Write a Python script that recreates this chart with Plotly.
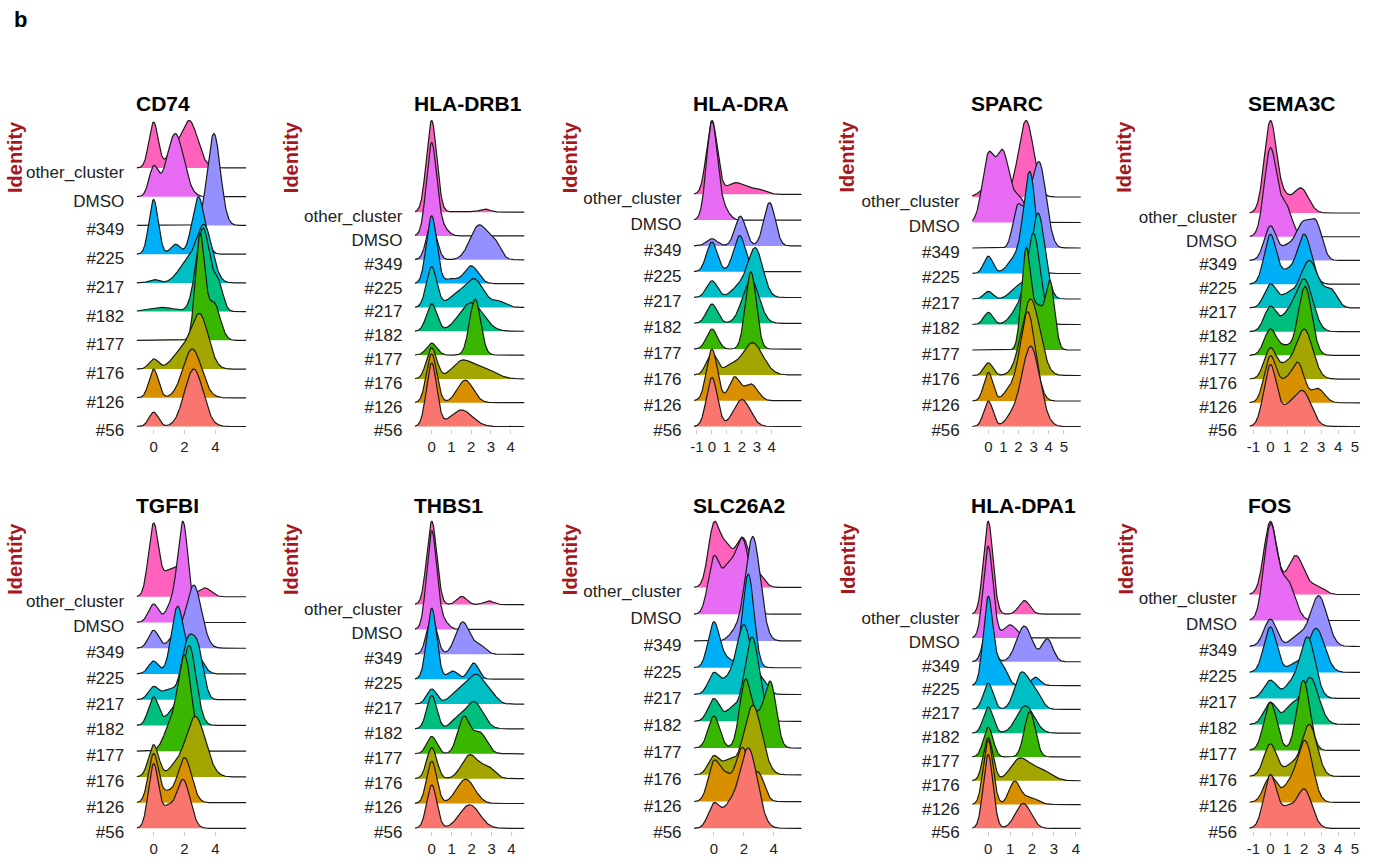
import numpy as np
import plotly.graph_objects as go

# ---------------- data ----------------
GROUPS = ["#56", "#126", "#176", "#177", "#182", "#217", "#225", "#349", "DMSO", "other_cluster"]
GROUP_COLORS = ["#F8766D", "#D89000", "#A3A500", "#39B600", "#00BF7D",
                "#00BFC4", "#00B0F6", "#9590FF", "#E76BF3", "#FF62BC"]

GENES = ["CD74", "HLA-DRB1", "HLA-DRA", "SPARC", "SEMA3C",
         "TGFBI", "THBS1", "SLC26A2", "HLA-DPA1", "FOS"]

# expression range covered by the density curves of each gene
X_EXTENT = [(-1.1, 6.0), (-0.85, 4.7), (-1.2, 6.0), (-1.07, 6.13), (-1.24, 5.3),
            (-1.1, 6.0), (-0.85, 4.65), (-1.33, 5.87), (-0.73, 4.23), (-1.24, 5.3)]

# narrowest peak width seen in each gene panel (density smoothing)
KDE_BW = [0.3, 0.26, 0.36, 0.3, 0.36, 0.33, 0.25, 0.38, 0.22, 0.38]

X_TICKS = [[0, 2, 4], [0, 1, 2, 3, 4], [-1, 0, 1, 2, 3, 4], [0, 1, 2, 3, 4, 5],
           [-1, 0, 1, 2, 3, 4, 5], [0, 2, 4], [0, 1, 2, 3, 4], [0, 2, 4],
           [0, 1, 2, 3, 4], [-1, 0, 1, 2, 3, 4, 5]]

# density peaks per group (order of GROUPS): (position, width, height in ridge-rows)
CD74 = [
    [(0, 0.25, 0.5), (2.6, 0.6, 2.0)],
    [(0, 0.25, 1.0), (2.5, 0.6, 1.7)],
    [(0, 0.25, 0.35), (1.8, 0.6, 0.6), (3.0, 0.55, 1.85)],
    [(3.0, 0.28, 3.6), (3.9, 0.4, 1.3)],
    [(0.5, 0.8, 0.15), (3.2, 0.45, 2.9), (4.2, 0.3, 0.9)],
    [(0, 0.3, 0.12), (2.2, 0.6, 0.7), (3.3, 0.5, 1.9)],
    [(0, 0.22, 1.9), (1.4, 0.3, 0.35), (2.9, 0.4, 2.0)],
    [(3.9, 0.42, 3.2)],
    [(0, 0.3, 1.0), (1.4, 0.55, 2.2)],
    [(0, 0.3, 1.6), (1.2, 0.35, 0.5), (2.3, 0.55, 1.65)],
]
HLA_DRB1 = [
    [(0, 0.2, 2.65), (1.5, 0.55, 0.7)],
    [(0, 0.2, 2.05), (1.7, 0.4, 0.95)],
    [(0, 0.2, 1.3), (1.5, 0.5, 0.7), (2.6, 0.6, 0.45)],
    [(0, 0.2, 0.5), (2.2, 0.28, 2.35)],
    [(0, 0.2, 1.15), (2.0, 0.6, 1.2)],
    [(0, 0.2, 1.7), (1.3, 0.5, 0.5), (2.2, 0.45, 1.1), (3.4, 0.35, 0.25)],
    [(0, 0.2, 2.85), (1.0, 0.3, 0.2), (2.0, 0.35, 0.75)],
    [(0, 0.2, 1.5), (2.4, 0.45, 1.45), (3.2, 0.3, 0.6)],
    [(0, 0.2, 3.9), (0.6, 0.25, 0.3)],
    [(0, 0.18, 3.85), (1.5, 0.5, 0.03), (2.7, 0.2, 0.13)],
]
HLA_DRA = [
    [(0, 0.22, 1.9), (2.0, 0.55, 1.05)],
    [(0, 0.22, 2.0), (1.5, 0.35, 0.9), (2.6, 0.45, 0.65)],
    [(0, 0.25, 0.85), (1.2, 0.4, 0.3), (2.7, 0.7, 1.25)],
    [(0, 0.25, 0.78), (2.6, 0.3, 3.0)],
    [(0, 0.25, 0.75), (2.6, 0.55, 1.7)],
    [(0, 0.25, 0.65), (1.8, 0.5, 0.4), (2.9, 0.5, 1.9)],
    [(0, 0.25, 1.15), (1.85, 0.4, 1.4)],
    [(0, 0.25, 0.28), (1.9, 0.35, 1.15), (3.85, 0.38, 1.68)],
    [(0, 0.22, 3.8), (0.8, 0.3, 0.4)],
    [(0, 0.2, 2.85), (1.6, 0.6, 0.45), (3.0, 0.5, 0.2)],
]
SPARC = [
    [(0, 0.25, 1.0), (1.5, 0.4, 0.3), (2.8, 0.6, 3.15)],
    [(0, 0.25, 1.12), (1.4, 0.4, 0.4), (2.6, 0.5, 3.5)],
    [(0, 0.25, 0.5), (2.8, 0.6, 3.0)],
    [(2.5, 0.3, 3.9), (3.3, 0.35, 1.6), (4.1, 0.25, 2.6)],
    [(0, 0.25, 0.48), (2.0, 0.5, 0.6), (3.0, 0.45, 3.5)],
    [(0, 0.25, 0.3), (2.0, 0.5, 0.5), (3.3, 0.45, 3.35)],
    [(0, 0.25, 0.68), (1.8, 0.5, 0.6), (2.75, 0.4, 3.9)],
    [(1.9, 0.3, 1.4), (2.6, 0.4, 1.2), (3.4, 0.45, 3.2)],
    [(0, 0.4, 2.6), (0.95, 0.4, 2.6), (2.0, 0.5, 1.0)],
    [(0.3, 0.6, 0.6), (2.5, 0.5, 3.0)],
]
SEMA3C = [
    [(0, 0.38, 2.6), (1.0, 0.35, 0.6), (1.9, 0.5, 1.5)],
    [(0, 0.33, 1.95), (0.9, 0.3, 0.8), (1.65, 0.35, 1.6), (2.8, 0.4, 0.6)],
    [(0, 0.3, 1.3), (0.9, 0.35, 0.5), (2.0, 0.5, 2.1)],
    [(0, 0.3, 1.1), (0.9, 0.3, 0.35), (2.05, 0.4, 2.9)],
    [(0, 0.3, 1.05), (1.0, 0.4, 0.6), (2.0, 0.5, 2.2)],
    [(0, 0.3, 1.0), (1.0, 0.4, 0.5), (2.3, 0.55, 2.0), (3.6, 0.35, 0.7)],
    [(0, 0.3, 2.1), (1.0, 0.35, 0.5), (2.0, 0.42, 2.1)],
    [(0, 0.3, 1.45), (1.0, 0.35, 0.55), (1.9, 0.4, 1.5), (2.7, 0.35, 1.5)],
    [(0, 0.27, 3.7), (0.9, 0.35, 1.3)],
    [(0, 0.25, 3.85), (0.8, 0.3, 0.6), (1.8, 0.45, 1.05)],
]
TGFBI = [
    [(0, 0.28, 2.5), (0.9, 0.3, 0.7), (1.9, 0.45, 1.9)],
    [(0, 0.25, 1.9), (0.9, 0.3, 0.35), (2.0, 0.45, 1.75)],
    [(0, 0.22, 1.25), (1.3, 0.4, 0.3), (2.7, 0.65, 2.35)],
    [(1.0, 0.4, 0.8), (2.0, 0.45, 3.7)],
    [(0, 0.25, 1.1), (1.2, 0.4, 0.5), (2.3, 0.45, 3.1)],
    [(0, 0.25, 0.5), (1.0, 0.4, 0.4), (2.2, 0.4, 2.2), (2.9, 0.35, 1.7)],
    [(0, 0.25, 0.5), (1.55, 0.4, 2.6), (2.7, 0.45, 0.8)],
    [(0, 0.25, 0.7), (1.4, 0.4, 0.5), (2.6, 0.5, 2.45)],
    [(0, 0.25, 0.72), (1.1, 0.3, 0.6), (1.9, 0.35, 3.9)],
    [(0, 0.3, 2.85), (0.9, 0.3, 0.8), (1.7, 0.4, 1.2), (3.3, 0.4, 0.35)],
]
THBS1 = [
    [(0, 0.2, 1.75), (1.9, 0.5, 0.95)],
    [(0, 0.2, 1.7), (1.7, 0.45, 0.98)],
    [(0, 0.2, 1.25), (1.9, 0.4, 0.95), (2.8, 0.35, 0.45)],
    [(0, 0.2, 0.7), (1.6, 0.3, 1.45), (2.4, 0.35, 0.85)],
    [(0, 0.2, 1.35), (1.2, 0.3, 0.3), (2.1, 0.45, 1.1)],
    [(0, 0.2, 0.6), (1.5, 0.5, 0.6), (2.3, 0.4, 1.0), (3.0, 0.3, 0.3)],
    [(0, 0.18, 2.85), (1.05, 0.2, 0.33), (2.1, 0.25, 0.65)],
    [(0, 0.2, 1.5), (1.55, 0.35, 1.3), (2.4, 0.3, 0.35)],
    [(0, 0.2, 3.95), (0.6, 0.25, 0.3)],
    [(0, 0.18, 3.35), (1.5, 0.25, 0.33), (2.85, 0.22, 0.15)],
]
SLC26A2 = [
    [(0, 0.3, 0.9), (1.0, 0.45, 0.7), (2.3, 0.6, 3.0)],
    [(0, 0.28, 1.45), (0.8, 0.35, 0.85), (1.9, 0.45, 2.0), (3.0, 0.35, 1.0)],
    [(0, 0.25, 0.7), (1.0, 0.4, 0.5), (2.6, 0.6, 2.6)],
    [(0, 0.25, 1.2), (2.1, 0.3, 2.5), (3.0, 0.4, 1.0), (3.8, 0.3, 2.35)],
    [(0, 0.25, 0.85), (1.2, 0.4, 0.45), (2.55, 0.5, 3.15)],
    [(0, 0.25, 0.8), (0.9, 0.35, 0.45), (2.0, 0.5, 2.6), (3.2, 0.4, 0.5)],
    [(0, 0.25, 1.7), (0.9, 0.3, 0.3), (2.3, 0.35, 3.5)],
    [(1.4, 0.4, 0.3), (2.6, 0.5, 3.9)],
    [(0, 0.3, 2.1), (0.9, 0.35, 1.4), (1.9, 0.5, 2.8)],
    [(0, 0.3, 2.3), (0.8, 0.35, 1.3), (1.9, 0.5, 1.85), (3.0, 0.4, 0.4)],
]
HLA_DPA1 = [
    [(0, 0.2, 3.1), (1.6, 0.35, 1.05)],
    [(0, 0.2, 2.7), (1.2, 0.25, 0.95), (1.9, 0.35, 0.3)],
    [(0, 0.2, 1.8), (1.4, 0.4, 0.85), (2.3, 0.5, 0.5)],
    [(0, 0.2, 1.25), (1.9, 0.25, 1.9)],
    [(0, 0.2, 1.1), (1.7, 0.4, 1.15)],
    [(0, 0.2, 1.1), (1.5, 0.3, 1.45), (2.1, 0.3, 0.8)],
    [(0, 0.2, 3.7), (0.6, 0.25, 0.9), (2.15, 0.2, 0.35)],
    [(0, 0.2, 1.5), (1.65, 0.35, 1.5), (2.7, 0.25, 0.95)],
    [(0, 0.2, 3.85), (1.0, 0.3, 0.55)],
    [(0, 0.18, 3.9), (1.65, 0.25, 0.57)],
]
FOS = [
    [(0, 0.33, 2.05), (1.0, 0.35, 0.7), (2.0, 0.45, 1.5)],
    [(0, 0.25, 1.0), (1.1, 0.4, 0.6), (2.05, 0.45, 2.35)],
    [(0, 0.25, 1.25), (1.2, 0.3, 0.4), (2.3, 0.45, 2.0)],
    [(0, 0.27, 1.85), (1.95, 0.3, 2.7)],
    [(0, 0.25, 0.85), (1.2, 0.4, 0.65), (2.35, 0.5, 1.8)],
    [(0, 0.25, 0.7), (1.2, 0.4, 0.5), (2.2, 0.45, 2.35)],
    [(0, 0.25, 1.75), (1.4, 0.3, 0.3), (2.7, 0.5, 1.7)],
    [(0, 0.25, 1.05), (1.6, 0.4, 0.4), (2.85, 0.5, 1.95)],
    [(0, 0.28, 3.6), (1.0, 0.45, 1.5)],
    [(0, 0.25, 2.8), (1.5, 0.5, 1.5), (2.8, 0.4, 0.3)],
]
PEAKS = [CD74, HLA_DRB1, HLA_DRA, SPARC, SEMA3C, TGFBI, THBS1, SLC26A2, HLA_DPA1, FOS]

# ---------------- layout geometry (pixels) ----------------
FIG_W, FIG_H = 1378, 868
COL_PX = [(133, 243), (412, 522), (692, 800), (971, 1080), (1249, 1360)]
ROW_PX = [(122, 432), (528, 839)]
TITLE_Y = [105, 512]
IDENT_X = [[11, 288, 568, 845, 1123], [11, 288, 567, 846, 1125]]
IDENT_Y = [159, 566]
PAD = 3

FONT = "Liberation Sans, Arial, Helvetica, sans-serif"
LINE_COLOR = "#1a1a1a"

fig = go.Figure()
annotations = []
layout_axes = {}

for k, gene in enumerate(GENES):
    r, c = divmod(k, 5)
    sfx = "" if k == 0 else str(k + 1)
    xmin, xmax = X_EXTENT[k]
    xs = np.linspace(xmin, xmax, 500)
    curves = []
    for gi in range(len(GROUPS)):
        d = np.zeros_like(xs)
        for mu, sd, amp in PEAKS[k][gi]:
            s = max(sd, KDE_BW[k])
            d = d + amp * np.exp(-0.5 * ((xs - mu) / s) ** 2)
        curves.append(d)
    ytop = max(gi + curves[gi].max() for gi in range(len(GROUPS)))

    # draw from back (top row) to front (bottom row)
    for gi in reversed(range(len(GROUPS))):
        y = gi + curves[gi]
        fig.add_trace(go.Scatter(
            x=np.concatenate([xs, xs[::-1]]),
            y=np.concatenate([y, np.full_like(xs, gi)]),
            mode="lines", fill="toself", fillcolor=GROUP_COLORS[gi],
            line=dict(width=0), hoverinfo="skip", showlegend=False,
            xaxis="x" + sfx, yaxis="y" + sfx))
        fig.add_trace(go.Scatter(
            x=xs, y=y, mode="lines", name=GROUPS[gi],
            line=dict(color=LINE_COLOR, width=1.2), showlegend=False,
            xaxis="x" + sfx, yaxis="y" + sfx))

    x0, x1 = COL_PX[c]
    y0, y1 = ROW_PX[r]
    unit = (y1 - y0) / ytop
    layout_axes["xaxis" + sfx] = dict(
        domain=[x0 / FIG_W, x1 / FIG_W], range=[xmin, xmax], anchor="y" + sfx,
        tickvals=X_TICKS[k], ticktext=[str(t) for t in X_TICKS[k]],
        showgrid=False, zeroline=False, showline=False,
        ticks="outside", ticklen=4, tickwidth=1, tickcolor="#cccccc",
        tickfont=dict(size=15, color="#222222", family=FONT), fixedrange=True)
    layout_axes["yaxis" + sfx] = dict(
        domain=[1 - (y1 + PAD) / FIG_H, 1 - (y0 - PAD) / FIG_H],
        range=[-PAD / unit, ytop + PAD / unit], anchor="x" + sfx,
        tickvals=list(range(len(GROUPS))), ticktext=GROUPS,
        showgrid=False, zeroline=False, showline=False,
        ticks="outside", ticklen=8, tickcolor="rgba(0,0,0,0)",
        ticklabelshift=4,
        tickfont=dict(size=17, color="#222222", family=FONT), fixedrange=True)

    annotations.append(dict(
        text="<b>" + gene + "</b>", xref="paper", yref="paper",
        x=x0 / FIG_W, y=1 - TITLE_Y[r] / FIG_H, xanchor="left", yanchor="middle",
        xshift=-3, showarrow=False,
        font=dict(size=21, color="#000000", family=FONT)))
    annotations.append(dict(
        text="<b>Identity</b>", xref="paper", yref="paper", textangle=-90,
        x=IDENT_X[r][c] / FIG_W, y=1 - IDENT_Y[r] / FIG_H,
        xanchor="center", yanchor="middle", showarrow=False,
        font=dict(size=20, color="#A5191E", family=FONT)))

annotations.append(dict(
    text="<b>b</b>", xref="paper", yref="paper", x=8 / FIG_W, y=1 - 20 / FIG_H,
    xanchor="left", yanchor="middle", showarrow=False,
    font=dict(size=22, color="#000000", family=FONT)))

fig.update_layout(
    width=FIG_W, height=FIG_H, margin=dict(l=0, r=0, t=0, b=0),
    paper_bgcolor="white", plot_bgcolor="white", showlegend=False,
    font=dict(family=FONT), annotations=annotations, **layout_axes)

fig.write_html("out.html", include_plotlyjs=True, config={"displayModeBar": False})
